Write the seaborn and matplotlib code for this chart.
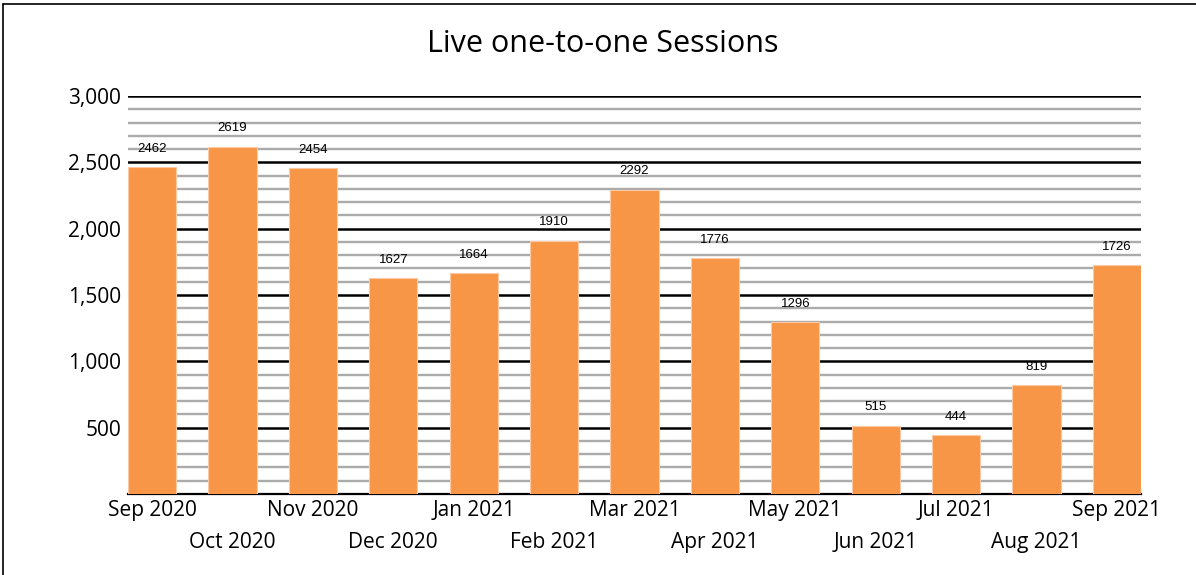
import matplotlib
matplotlib.use("Agg")
import matplotlib.pyplot as plt
import seaborn as sns
import pandas as pd
from matplotlib.ticker import MultipleLocator, FuncFormatter
from matplotlib.lines import Line2D

months = ["Sep 2020", "Oct 2020", "Nov 2020", "Dec 2020", "Jan 2021", "Feb 2021",
          "Mar 2021", "Apr 2021", "May 2021", "Jun 2021", "Jul 2021", "Aug 2021", "Sep 2021"]
sessions = [2462, 2619, 2454, 1627, 1664, 1910, 2292, 1776, 1296, 515, 444, 819, 1726]
title = "Live one-to-one Sessions"

df = pd.DataFrame({"month": months, "sessions": sessions})

sns.set_theme(style="white")
plt.rcParams["font.family"] = ["Open Sans", "DejaVu Sans"]

fig = plt.figure(figsize=(11.96, 5.75), dpi=100)
ax = fig.add_axes([128/1196, 81/575, (1141-128)/1196, (494-96)/575])

sns.barplot(data=df, x="month", y="sessions", color="#F79646", saturation=1,
            width=0.6, ax=ax, zorder=3, edgecolor="#FBC9A3", linewidth=0.8)

ax.set_xlim(-0.3, len(months) - 1 + 0.3)
ax.set_ylim(0, 3000)
ax.yaxis.set_major_locator(MultipleLocator(500))
ax.yaxis.set_minor_locator(MultipleLocator(100))
ax.yaxis.set_major_formatter(FuncFormatter(lambda v, p: "" if v == 0 else f"{int(v):,}"))
ax.grid(axis="y", which="minor", color="#ABABAB", linewidth=1.7, zorder=0)
ax.grid(axis="y", which="major", color="black", linewidth=1.8, zorder=1)
ax.grid(axis="x", visible=False)
ax.set_axisbelow(True)
for s in ["top", "right", "left"]:
    ax.spines[s].set_visible(False)
ax.spines["bottom"].set_color("black")
ax.spines["bottom"].set_linewidth(1.6)
ax.tick_params(axis="both", length=0, labelsize=15, colors="black")
ax.tick_params(axis="y", pad=5)
ax.set_xlabel("")
ax.set_ylabel("")

ax.set_xticks(range(len(months)))
ax.set_xticklabels(months)
for i, lab in enumerate(ax.get_xticklabels()):
    lab.set_y(-0.004 if i % 2 == 0 else -0.083)

for c in ax.containers:
    ax.bar_label(c, labels=[str(v) for v in sessions], padding=9, fontsize=9.5,
                 family=["Liberation Sans", "DejaVu Sans"], color="black")

fig.text(0.504, 0.924, title, ha="center", va="center", fontsize=22, color="black")

fig.add_artist(Line2D([3/1196, 3/1196], [0, 1 - 4/575], transform=fig.transFigure,
                      color="black", linewidth=1.2))
fig.add_artist(Line2D([3/1196, 1], [1 - 4/575, 1 - 4/575], transform=fig.transFigure,
                      color="black", linewidth=1.2))

fig.savefig("out.png", dpi=100, facecolor="white")
